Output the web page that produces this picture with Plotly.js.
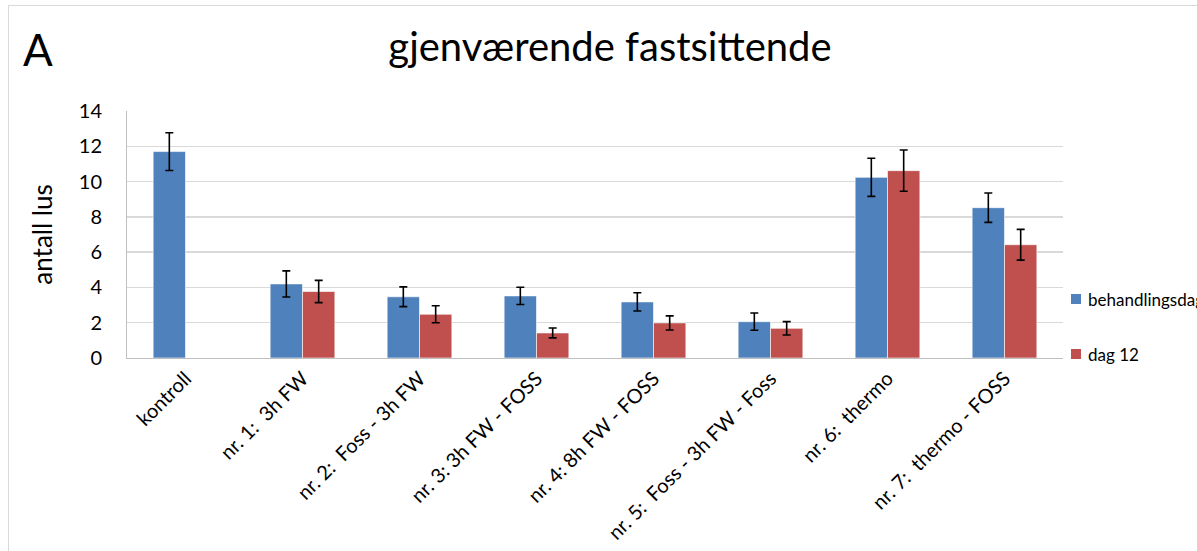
<!DOCTYPE html>
<html>
<head>
<meta charset="utf-8">
<script src="https://cdn.plot.ly/plotly-3.0.1.min.js"></script>
<style>
  html, body { margin: 0; padding: 0; background: #fff; overflow: hidden; }
  #wrap { position: relative; width: 1197px; height: 551px; }
  #chart { position: absolute; left: 0; top: 0; width: 1197px; height: 551px; }
  #frame { position: absolute; left: 8px; top: 5px; width: 1400px; height: 700px;
           border: 1px solid #d9d9d9; pointer-events: none; box-sizing: border-box; }
</style>
</head>
<body>
<div id="wrap">
  <div id="chart"></div>
  <div id="frame"></div>
</div>
<script>
const categories = ["kontroll", "nr. 1:  3h FW", "nr. 2:  Foss - 3h FW", "nr. 3: 3h FW - FOSS",
  "nr. 4: 8h FW - FOSS", "nr. 5:  Foss - 3h FW - Foss", "nr. 6:  thermo", "nr. 7:  thermo - FOSS"];
const seriesNames = ["behandlingsdag", "dag 12"];
const seriesColors = ["#4F81BD", "#C0504D"];
const behandlingsdag = [11.7, 4.2, 3.47, 3.52, 3.18, 2.06, 10.24, 8.52];
const behandlingsdagErr = [1.07, 0.74, 0.56, 0.49, 0.52, 0.49, 1.08, 0.83];
const dag12 = [null, 3.77, 2.48, 1.42, 1.99, 1.68, 10.62, 6.42];
const dag12Err = [null, 0.63, 0.48, 0.28, 0.4, 0.38, 1.17, 0.87];
const yTicks = [0, 2, 4, 6, 8, 10, 12, 14];

const FONT = "Lato, 'Open Sans', sans-serif";
const errStyle = { type: "data", visible: true, color: "#000000", thickness: 1.6, width: 4 };

const traces = [
  { type: "bar", name: seriesNames[0], x: categories, y: behandlingsdag,
    error_y: Object.assign({ array: behandlingsdagErr }, errStyle),
    marker: { color: seriesColors[0], line: { color: "rgba(255,255,255,0.6)", width: 1 } } },
  { type: "bar", name: seriesNames[1], x: categories, y: dag12,
    error_y: Object.assign({ array: dag12Err }, errStyle),
    marker: { color: seriesColors[1], line: { color: "rgba(255,255,255,0.6)", width: 1 } } }
];

// manual legend (placed to the right of the plot area, as in the reference)
const W = 936, H = 247;            // plot area size in px
const px2x = p => (p - 127) / W;   // page px -> paper x
const py2y = p => (358 - p) / H;   // page px -> paper y
const legendY = [299, 354];
const shapes = [], annotations = [];
seriesNames.forEach((nm, i) => {
  shapes.push({ type: "rect", xref: "paper", yref: "paper",
    x0: px2x(1071), x1: px2x(1081), y0: py2y(legendY[i] + 5), y1: py2y(legendY[i] - 5),
    fillcolor: seriesColors[i], line: { width: 0 } });
  annotations.push({ text: nm, xref: "paper", yref: "paper", x: px2x(1086), y: py2y(legendY[i]),
    xanchor: "left", yanchor: "middle", showarrow: false,
    font: { size: 17, family: FONT, color: "#000" } });
});
annotations.push({ text: "A", xref: "paper", yref: "paper", x: -0.095, y: 1.25, xanchor: "center",
  yanchor: "middle", showarrow: false, font: { size: 44, family: FONT, color: "#000" } });

const layout = {
  width: 1197, height: 551,
  margin: { l: 127, r: 134, t: 111, b: 193, pad: 0 },
  paper_bgcolor: "#ffffff", plot_bgcolor: "#ffffff",
  font: { family: FONT, color: "#000000" },
  title: { text: "gjenværende fastsittende", font: { size: 40, family: FONT, color: "#000" },
           x: 610 / 1197, xanchor: "center", y: 1 - 47 / 551, yanchor: "middle",
           xref: "container", yref: "container" },
  barmode: "group", bargap: 0.447, bargroupgap: 0,
  showlegend: false,
  xaxis: { type: "category", tickangle: -45, tickfont: { size: 20, family: FONT },
           showline: true, linecolor: "#bfbfbf", linewidth: 1, showgrid: false,
           ticks: "", fixedrange: true },
  yaxis: { range: [0, 14], tickvals: yTicks, ticktext: yTicks.map(String),
           tickfont: { size: 20, family: FONT }, ticklabelstandoff: 20,
           showline: true, linecolor: "#bfbfbf",
           linewidth: 1, showgrid: true, gridcolor: "#d9d9d9", gridwidth: 1.5,
           zeroline: false, ticks: "", fixedrange: true,
           title: { text: "antall lus", font: { size: 26, family: FONT }, standoff: 18 } },
  shapes: shapes,
  annotations: annotations
};

Plotly.newPlot("chart", traces, layout, { displayModeBar: false, staticPlot: true });
</script>
</body>
</html>
